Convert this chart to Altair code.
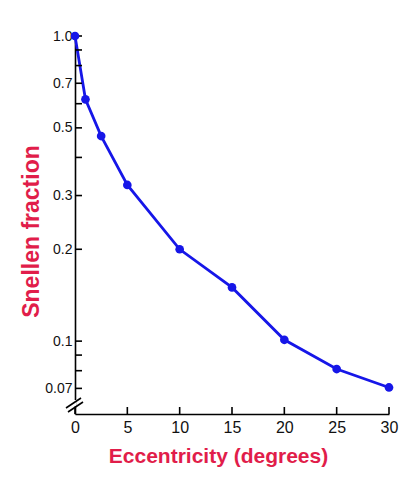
import altair as alt
import pandas as pd

# data
ecc = [0, 1, 2.5, 5, 10, 15, 20, 25, 30]
snellen = [1.0, 0.62, 0.47, 0.325, 0.2, 0.15, 0.101, 0.081, 0.0705]

y_major = [1.0, 0.7, 0.5, 0.3, 0.2, 0.1, 0.07]
y_minor = [0.9, 0.8, 0.6, 0.4, 0.09, 0.08]
x_ticks = [0, 5, 10, 15, 20, 25, 30]

W, H = 314, 378
BLUE = "#1616e8"
RED = "#e11d4a"
FONT = "Liberation Sans"

df = pd.DataFrame({"ecc": ecc, "snellen": snellen})
yt = pd.DataFrame({"v": y_major + y_minor})
xt = pd.DataFrame({"v": x_ticks})
one = pd.DataFrame({"a": [0]})

xscale = alt.Scale(domain=[0, 30], nice=False, zero=False)
yscale = alt.Scale(type="log", domain=[0.0577, 1.0], nice=False)

xaxis = alt.Axis(
    values=x_ticks, ticks=False, tickSize=0, grid=False, labelFlush=False,
    domainColor="black", domainWidth=1.6,
    labelFont=FONT, labelFontSize=16, labelColor="#111", labelPadding=5,
    title="Eccentricity (degrees)", titleFont=FONT, titleFontSize=21,
    titleFontWeight="bold", titleColor=RED, titleX=143, titleY=48,
    titleBaseline="alphabetic", titleAlign="center",
)
yaxis = alt.Axis(
    values=y_major, ticks=False, tickSize=0, grid=False, labelFlush=False,
    domainColor="black", domainWidth=1.6,
    labelFont=FONT, labelFontSize=14, labelColor="#111", labelPadding=3,
    labelExpr="datum.value == 1 ? '1.0' : toString(datum.value)",
    title="Snellen fraction", titleFont=FONT, titleFontSize=23,
    titleFontWeight="bold", titleColor=RED, titleAngle=270, titleX=-37, titleY=195,
    titleBaseline="alphabetic", titleAlign="center",
)

base = alt.Chart(df)
line = base.mark_line(color=BLUE, strokeWidth=2.8).encode(
    x=alt.X("ecc:Q", scale=xscale, axis=xaxis),
    y=alt.Y("snellen:Q", scale=yscale, axis=yaxis),
)
pts = base.mark_circle(color=BLUE, size=75, opacity=1).encode(
    x=alt.X("ecc:Q", scale=xscale),
    y=alt.Y("snellen:Q", scale=yscale),
)
yticks = alt.Chart(yt).mark_rule(color="black", strokeWidth=1.6).encode(
    y=alt.Y("v:Q", scale=yscale), x=alt.value(0), x2=alt.value(7)
)
xticks = alt.Chart(xt).mark_rule(color="black", strokeWidth=1.6).encode(
    x=alt.X("v:Q", scale=xscale), y=alt.value(H), y2=alt.value(H - 7)
)
brk_gap = alt.Chart(one).mark_rule(color="white", strokeWidth=3).encode(
    x=alt.value(0), y=alt.value(364), y2=alt.value(370)
)
brk1 = alt.Chart(one).mark_rule(color="black", strokeWidth=1.6).encode(
    x=alt.value(-9), x2=alt.value(6), y=alt.value(372), y2=alt.value(362)
)
brk2 = alt.Chart(one).mark_rule(color="black", strokeWidth=1.6).encode(
    x=alt.value(-7), x2=alt.value(8), y=alt.value(376), y2=alt.value(366)
)

chart = alt.layer(line, yticks, xticks, brk_gap, brk1, brk2, pts).properties(
    width=W, height=H,
    autosize=alt.AutoSizeParams(type="none"),
    padding={"left": 67, "top": 28, "right": 12, "bottom": 59},
    background="white",
).configure_view(stroke=None)

chart.save("out.html", embed_options={"renderer": "svg", "actions": False})
